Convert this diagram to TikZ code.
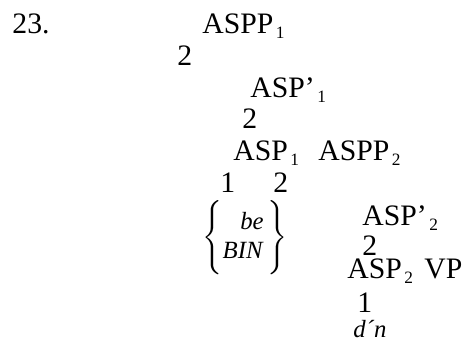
\documentclass[tikz,border=0pt]{standalone}
\usepackage{fontspec}
\setmainfont{Liberation Serif}
\usetikzlibrary{positioning}

\newcommand{\lowsub}[1]{\kern1pt\raisebox{-2.4pt}{\fontsize{7}{8}\selectfont #1}}

\begin{document}
\begin{tikzpicture}[x=0.404pt,y=-0.404pt,
  lbl/.style={anchor=base west,inner sep=0pt,font=\fontsize{12}{14}\selectfont},
  lex/.style={lbl,font=\fontsize{10}{12}\selectfont\itshape}]
  \useasboundingbox (0,0) rectangle (464,356);
  \node[lbl] (n23) at (12,33) {23.};
  \node[lbl] (aspp1) at (202,33) {ASPP\lowsub{1}};
  \node[lbl] (br1) at (177,65) {2};
  \node[lbl] (aspbar1) at (250,97) {ASP’\lowsub{1}};
  \node[lbl] (br2) at (242,128) {2};
  \node[lbl] (asp1) at (233,160) {ASP\lowsub{1}};
  \node[lbl] (aspp2) at (318,160) {ASPP\lowsub{2}};
  \node[lbl] (br3) at (220,192) {1};
  \node[lbl] (br4) at (273,192) {2};
  \node[inner sep=0pt,font=\fontsize{10}{12}\selectfont] (verbs) at (245,238)
    {$\delimitershortfall=-1pt\left\{\vrule height 15.5pt depth 9.5pt width 0pt
     \begin{tabular}{@{}r@{}}\textit{be}\\\textit{BIN}\end{tabular}\kern1.5pt\right\}$};
  \node[lbl] (aspbar2) at (362,225) {ASP’\lowsub{2}};
  \node[lbl] (br5) at (362,255) {2};
  \node[lbl] (asp2) at (347,278) {ASP\lowsub{2}};
  \node[lbl] (vp) at (424,278) {VP};
  \node[lbl] (br6) at (357,312) {1};
  \node[lex] (dn) at (353,337) {d´n};
\end{tikzpicture}
\end{document}
